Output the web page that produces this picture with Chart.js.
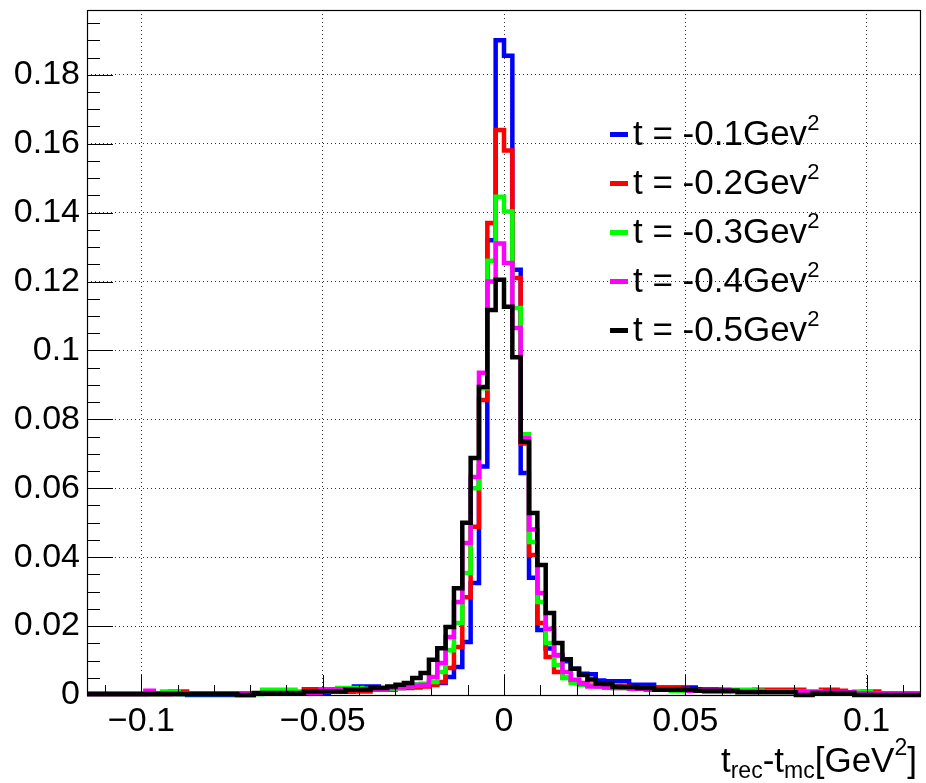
<!DOCTYPE html>
<html>
<head>
<meta charset="utf-8">
<script src="https://cdn.jsdelivr.net/npm/chart.js@4/dist/chart.umd.min.js"></script>
<style>
  html, body { margin: 0; padding: 0; background: #fff; }
  #wrap { position: relative; width: 926px; height: 783px; font-family: "Liberation Sans", Arial, Helvetica, sans-serif; color: #000; }
  #c { position: absolute; left: 0; top: 0; }
  .lg-row { position: absolute; left: 633px; font-size: 35px; line-height: 35px; white-space: nowrap; }
  .lg-line { position: absolute; left: 610px; width: 18px; height: 5px; }
  .sup { position: relative; font-size: 22px; line-height: 0; top: -15px; }
  #xtitle { position: absolute; right: 9px; top: 742px; font-size: 35px; line-height: 35px; white-space: nowrap; }
  #xtitle .sub { position: relative; font-size: 23px; line-height: 0; top: 6px; }
  #xtitle .sup2 { position: relative; font-size: 23px; line-height: 0; top: -17px; }
</style>
</head>
<body>
<div id="wrap">
  <canvas id="c" width="926" height="783"></canvas>
  <div id="legend"></div>
  <div id="xtitle">t<span class="sub">rec</span>-t<span class="sub">mc</span>[GeV<span class="sup2">2</span>]</div>
</div>
<script>
// ---- Histogram definition (100 bins from -0.115 to 0.115) ----
const xMin = -0.115;
const xMax = 0.115;
const nBins = 100;

const seriesLabels = ["t = -0.1Gev", "t = -0.2Gev", "t = -0.3Gev", "t = -0.4Gev", "t = -0.5Gev"];
const seriesColors = ["#0000ff", "#ff0000", "#00ff00", "#ff00ff", "#000000"];

const blueVals = [
  0.0003,0.0003,0.0003,0.0003,0.0003,0.0003,0.0003,0.0003,0.0003,0.0003,
  0.0003,0.0003,0,0,0,0,0,0,0,0,
  0.0005,0.0005,0.0005,0.0005,0.0005,0.0005,0.0005,0.0005,0.0005,0.001,
  0.001,0.001,0.0025,0.0025,0.0025,0.002,0.002,0.002,0.0025,0.003,
  0.003,0.0032,0.0035,0.0052,0.0081,0.0154,0.0325,0.0663,0.132,0.19,
  0.1855,0.1234,0.0644,0.034,0.0189,0.0135,0.0115,0.0098,0.0076,0.0062,
  0.006,0.0042,0.004,0.004,0.004,0.003,0.003,0.003,0.0022,0.0022,
  0.0022,0.0022,0.0022,0.0017,0.0017,0.0017,0.0012,0.0012,0.0012,0.0012,
  0.0012,0.001,0.001,0.001,0.001,0.001,0.0008,0.0008,0.0008,0.0008,
  0.0008,0.0005,0.0005,0.0005,0.0005,0.0005,0.0005,0.0005,0.0005,0.0005
];
const redVals = [
  0.0003,0.0003,0.0003,0.0003,0.0003,0.0003,0.0003,0.0003,0.0003,0.0003,
  0.001,0.001,0.0005,0.0005,0.0005,0.0005,0.0005,0.0005,0.0005,0.0005,
  0.0005,0.0005,0.0005,0.0005,0.0005,0.0005,0.0017,0.0017,0.001,0.001,
  0.001,0.001,0.001,0.001,0.0015,0.0015,0.0015,0.002,0.002,0.0022,
  0.0025,0.0029,0.0038,0.0078,0.0139,0.0284,0.0488,0.0856,0.137,0.164,
  0.158,0.121,0.073,0.0406,0.0209,0.011,0.0067,0.005,0.0042,0.0035,
  0.003,0.003,0.0025,0.0025,0.0025,0.0022,0.002,0.002,0.002,0.002,
  0.002,0.0018,0.0015,0.0012,0.001,0.001,0.001,0.0012,0.0012,0.0012,
  0.0015,0.0015,0.0015,0.0015,0.0015,0.0015,0.001,0.001,0.0015,0.0015,
  0.0012,0.0008,0.0008,0.001,0.001,0.0005,0.0005,0.0005,0.0005,0.0005
];
const greenVals = [
  0.0003,0.0003,0.0003,0.0003,0.0003,0.0003,0.0003,0.0003,0.0003,0.001,
  0.001,0.0003,0.0003,0.0003,0.0003,0.0003,0.0003,0.0003,0.0003,0.0003,
  0.0003,0.0015,0.0015,0.0015,0.0015,0.001,0.001,0.001,0.001,0.001,
  0.002,0.002,0.002,0.0018,0.0018,0.0018,0.0018,0.002,0.0025,0.003,
  0.0033,0.0038,0.0067,0.013,0.0209,0.0354,0.060,0.089,0.126,0.1446,
  0.1403,0.1123,0.0757,0.0444,0.027,0.0151,0.0087,0.0049,0.0035,0.003,
  0.0028,0.0025,0.0022,0.002,0.002,0.0018,0.0018,0.0015,0.0015,0.0015,
  0.0012,0.0012,0.0012,0.0012,0.0012,0.0012,0.0015,0.0015,0.0015,0.0015,
  0.0012,0.001,0.001,0.001,0.001,0.001,0.001,0.001,0.0008,0.0008,
  0.0008,0.0008,0.001,0.001,0.0005,0.0005,0.0005,0.0005,0.0005,0.0005
];
const magentaVals = [
  0.0003,0.0003,0.0003,0.0003,0.0003,0.0003,0.0003,0.0012,0.0005,0.0005,
  0.0005,0.0005,0.0005,0.0005,0.0005,0.0005,0.0005,0.0005,0.0005,0.0005,
  0.0005,0.0005,0.0005,0.0005,0.0005,0.0005,0.0005,0.0005,0.0017,0.0017,
  0.0017,0.0015,0.0015,0.0015,0.0015,0.0015,0.002,0.0022,0.0025,0.0027,
  0.0029,0.0052,0.0093,0.0168,0.027,0.0441,0.0633,0.0935,0.12,0.131,
  0.1254,0.1065,0.0745,0.048,0.0296,0.0192,0.0116,0.0067,0.0044,0.0033,
  0.0025,0.0025,0.0022,0.002,0.002,0.0018,0.0018,0.0015,0.0015,0.0015,
  0.0015,0.0015,0.0012,0.0012,0.0015,0.0015,0.0015,0.001,0.001,0.001,
  0.001,0.001,0.001,0.001,0.001,0.001,0.0008,0.0008,0.0008,0.0008,
  0.0008,0.0008,0.0005,0.0005,0.0005,0.0005,0.0005,0.0005,0.0005,0.0005
];
const blackVals = [
  0.0003,0.0003,0.0003,0.0003,0.0003,0.0003,0.0003,0.0003,0.0003,0.0003,
  0.0003,0.0003,0.0003,0.0003,0.0003,0.0003,0.0003,0.0003,0,0,
  0.0006,0.0006,0.0006,0.0006,0.0006,0.0006,0.001,0.001,0.001,0.001,
  0.001,0.0015,0.0015,0.0015,0.002,0.002,0.0025,0.003,0.0035,0.0049,
  0.0064,0.0102,0.0136,0.0197,0.031,0.050,0.0688,0.0894,0.1117,0.1205,
  0.1127,0.098,0.0735,0.0528,0.0377,0.0238,0.0151,0.0104,0.0076,0.0058,
  0.0045,0.0033,0.0032,0.0024,0.0023,0.0023,0.002,0.002,0.0015,0.0015,
  0.0015,0.0015,0.0015,0.0012,0.0012,0.0012,0.0012,0.0012,0.0008,0.0008,
  0.0008,0.0008,0.0008,0.0008,0.0008,0,0,0.0006,0.0006,0.0006,
  0.0006,0.0006,0,0,0,0,0,0,0,0
];
const seriesValues = [blueVals, redVals, greenVals, magentaVals, blackVals];

const yMin = 0;
const yMax = 0.1988;
const xTickStep = 0.05, xMinorStep = 0.01;
const yTickStep = 0.02, yMinorStep = 0.005;

// ---- Build step points at bin edges ----
const binW = (xMax - xMin) / nBins;
function toPoints(vals) {
  const pts = vals.map((v, i) => ({ x: xMin + i * binW, y: v }));
  pts.push({ x: xMax, y: vals[vals.length - 1] });
  return pts;
}

const FONT = '"Liberation Sans", Arial, Helvetica, sans-serif';

function fmt(v) {
  const r = Math.round(v * 1000) / 1000;
  if (r === 0) return '0';
  return (r < 0 ? '\u2212' : '') + String(Math.abs(r));
}

const frameAndTicks = {
  id: 'frameAndTicks',
  afterDraw(chart) {
    const ctx = chart.ctx;
    const a = chart.chartArea;
    const xs = chart.scales.x, ys = chart.scales.y;
    ctx.save();
    ctx.strokeStyle = '#000';
    ctx.lineWidth = 1;
    ctx.beginPath();
    for (let i = Math.ceil((xMin + 1e-9) / xMinorStep); i * xMinorStep <= xMax + 1e-9; i++) {
      const v = i * xMinorStep;
      const major = Math.abs(Math.round(v / xTickStep) * xTickStep - v) < 1e-9;
      const px = Math.round(xs.getPixelForValue(v)) + 0.5;
      const len = major ? 20 : 10;
      ctx.moveTo(px, a.bottom);
      ctx.lineTo(px, a.bottom - len);
    }
    for (let i = 0; i * yMinorStep <= yMax + 1e-9; i++) {
      const v = i * yMinorStep;
      const major = i % Math.round(yTickStep / yMinorStep) === 0;
      const py = Math.round(ys.getPixelForValue(v)) + 0.5;
      const len = major ? 26 : 13;
      ctx.moveTo(a.left, py);
      ctx.lineTo(a.left + len, py);
    }
    ctx.stroke();
    ctx.lineWidth = 1.2;
    ctx.strokeRect(Math.round(a.left) + 0.5, Math.round(a.top) + 0.5, Math.round(a.right - a.left) - 1, Math.round(a.bottom - a.top));
    ctx.restore();
  }
};

const drawOrder = [5, 4, 3, 2, 1];

new Chart(document.getElementById('c'), {
  type: 'line',
  data: {
    datasets: seriesValues.map((vals, i) => ({
      label: seriesLabels[i],
      data: toPoints(vals),
      borderColor: seriesColors[i],
      backgroundColor: seriesColors[i],
      borderWidth: 4.5,
      pointRadius: 0,
      stepped: 'before',
      fill: false,
      tension: 0,
      order: drawOrder[i],
      clip: 6,
      borderJoinStyle: 'miter',
      borderCapStyle: 'butt'
    }))
  },
  options: {
    responsive: false,
    animation: false,
    devicePixelRatio: 1,
    layout: { padding: { top: 10, right: 5, left: 0, bottom: 0 } },
    plugins: { legend: { display: false }, tooltip: { enabled: false }, title: { display: false } },
    scales: {
      x: {
        type: 'linear',
        min: xMin,
        max: xMax,
        afterFit(scale) { scale.height = 88; scale.paddingLeft = 0; scale.paddingRight = 0; },
        grid: { color: '#333', lineWidth: 1, drawTicks: false },
        border: { display: false, dash: [1, 3] },
        ticks: {
          stepSize: xTickStep,
          includeBounds: false,
          autoSkip: false,
          maxRotation: 0,
          padding: 6,
          color: '#000',
          font: { family: FONT, size: 34 },
          callback: v => fmt(v)
        }
      },
      y: {
        type: 'linear',
        min: yMin,
        max: yMax,
        afterFit(scale) { scale.width = 87; scale.paddingTop = 0; scale.paddingBottom = 0; },
        grid: { color: '#333', lineWidth: 1, drawTicks: false },
        border: { display: false, dash: [1, 3] },
        ticks: {
          stepSize: yTickStep,
          includeBounds: false,
          padding: 7,
          color: '#000',
          font: { family: FONT, size: 34 },
          callback: v => fmt(v)
        }
      }
    }
  },
  plugins: [frameAndTicks]
});

// ---- Legend (HTML, with superscripts) ----
const legend = document.getElementById('legend');
const legendBaseline0 = 145, legendRowStep = 48.9;
seriesLabels.forEach((lab, i) => {
  const base = legendBaseline0 + i * legendRowStep;
  const line = document.createElement('div');
  line.className = 'lg-line';
  line.style.background = seriesColors[i];
  line.style.top = (base - 10.5 - 2.5) + 'px';
  legend.appendChild(line);
  const row = document.createElement('div');
  row.className = 'lg-row';
  row.style.top = (base - 29.6) + 'px';
  row.appendChild(document.createTextNode(lab));
  const s = document.createElement('span');
  s.className = 'sup';
  s.textContent = '2';
  row.appendChild(s);
  legend.appendChild(row);
});
</script>
</body>
</html>
